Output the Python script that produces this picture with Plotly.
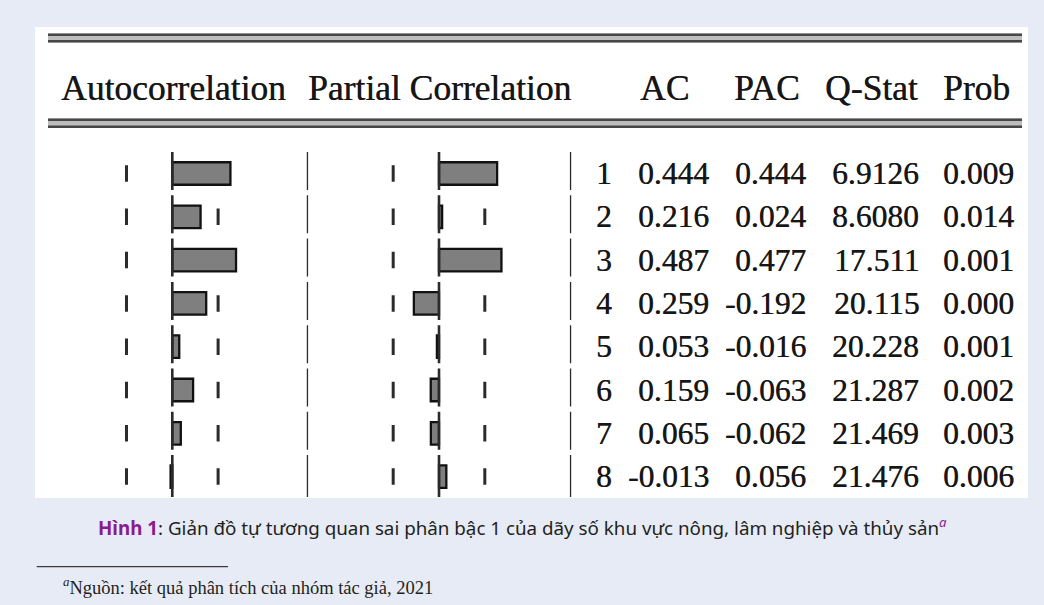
import plotly.graph_objects as go

W, H = 1044, 605

# Correlogram of the first-differenced series
lags = [1, 2, 3, 4, 5, 6, 7, 8]
ac = [0.444, 0.216, 0.487, 0.259, 0.053, 0.159, 0.065, -0.013]
pac = [0.444, 0.024, 0.477, -0.192, -0.016, -0.063, -0.062, 0.056]
q_stat = [6.9126, 8.6080, 17.511, 20.115, 20.228, 21.287, 21.469, 21.476]
prob = [0.009, 0.014, 0.001, 0.000, 0.001, 0.002, 0.003, 0.006]
conf_bound = 0.35
col_headers = ["Autocorrelation", "Partial Correlation", "AC", "PAC", "Q-Stat", "Prob"]

caption = ("<b><span style='color:#8b1c8e'>Hình 1</span></b>: Giản đồ tự tương quan sai phân bậc 1 "
           "của dãy số khu vực nông, lâm nghiệp và thủy sản"
           "<sup><i><span style='color:#8b1c8e'>a</span></i></sup>")
footnote = "<sup><i>a</i></sup>Nguồn: kết quả phân tích của nhóm tác giả, 2021"


def px(x):
    return x / W


def py(y):
    return 1 - y / H


SERIF = "Liberation Serif, Times New Roman, serif"
INK = "#161616"
LINE = "#2b2b2b"
HEAVY = "0.5px 0px 0.4px rgba(20,20,20,0.85)"

fig = go.Figure()

bar_style = dict(orientation="h", width=0.52, yaxis="y",
                 marker=dict(color="#7f7f7f", line=dict(color="#111111", width=2.3)),
                 hoverinfo="skip", showlegend=False)
fig.add_trace(go.Bar(x=ac, y=lags, xaxis="x", **bar_style))
fig.add_trace(go.Bar(x=pac, y=lags, xaxis="x2", **bar_style))

shapes = []
# white panel
shapes.append(dict(type="rect", xref="paper", yref="paper", x0=px(35), x1=px(1028),
                   y0=py(498), y1=py(27), fillcolor="white", line=dict(width=0), layer="below"))

# double rules above and below the header
for top, bot in [(33.5, 42.5), (118.5, 128)]:
    shapes.append(dict(type="rect", xref="paper", yref="paper", x0=px(48), x1=px(1022),
                       y0=py(bot), y1=py(top), fillcolor="#bdbdbd", line=dict(width=0)))
    for yy in (top + 1.3, bot - 1.3):
        shapes.append(dict(type="line", xref="paper", yref="paper", x0=px(48), x1=px(1022),
                           y0=py(yy), y1=py(yy), line=dict(color="#474747", width=2.6)))

# broken vertical rules: zero axes and column separators
for lag in lags:
    y0 = lag - 0.497
    y1 = lag + 0.381 if lag < lags[-1] else lag + 0.47
    for xr, xv in [("x", 0), ("x2", 0), ("x2", -1.01), ("x2", 1.01)]:
        shapes.append(dict(type="line", xref=xr, yref="y", x0=xv, x1=xv, y0=y0, y1=y1,
                           line=dict(color=LINE, width=2.6)))
    # confidence bound ticks (hidden behind long bars)
    for xr in ("x", "x2"):
        for sgn in (-1, 1):
            shapes.append(dict(type="line", xref=xr, yref="y", x0=sgn * conf_bound,
                               x1=sgn * conf_bound, y0=lag - 0.19, y1=lag + 0.19,
                               line=dict(color=LINE, width=3), layer="below"))

# footnote rule
shapes.append(dict(type="line", xref="paper", yref="paper", x0=px(36.7), x1=px(228),
                   y0=py(566.7), y1=py(566.7), line=dict(color="#111111", width=1)))

annotations = []
# header row
hdr_font = dict(family=SERIF, size=35.5, color=INK, shadow=HEAVY)
hdr_centers = [173, 439, 664, 766.5, 871.5, 976]
for txt, xc in zip(col_headers, hdr_centers):
    annotations.append(dict(text=txt, xref="paper", yref="paper", x=px(xc), y=py(88),
                            xanchor="center", yanchor="middle", showarrow=False, font=hdr_font))

# statistics table
num_font = dict(family=SERIF, size=31.5, color=INK, shadow=HEAVY)
columns = [
    (614, [str(v) for v in lags]),
    (711, [f"{v:.3f}" for v in ac]),
    (808, [f"{v:.3f}" for v in pac]),
    (921, [f"{v:#.5g}" for v in q_stat]),
    (1016, [f"{v:.3f}" for v in prob]),
]
for xr, vals in columns:
    for lag, txt in zip(lags, vals):
        annotations.append(dict(text=txt, xref="paper", yref="y", x=px(xr), y=lag,
                                xanchor="right", yanchor="middle", showarrow=False,
                                font=num_font))

annotations.append(dict(text=caption, xref="paper", yref="paper", x=0.5, y=py(527),
                        xanchor="center", yanchor="middle", showarrow=False,
                        font=dict(family="Noto Sans, Open Sans, sans-serif", size=18.8,
                                  color="#231f20")))
annotations.append(dict(text=footnote, xref="paper", yref="paper", x=px(61), y=py(586),
                        xanchor="left", yanchor="middle", showarrow=False,
                        font=dict(family=SERIF, size=18.5, color="#231f20")))

axis_off = dict(visible=False, showgrid=False, zeroline=False, fixedrange=True)
fig.update_layout(
    width=W, height=H,
    margin=dict(l=0, r=0, t=0, b=0),
    paper_bgcolor="#e7ebf6",
    plot_bgcolor="rgba(0,0,0,0)",
    barmode="overlay",
    xaxis=dict(domain=[px(40.1), px(304.5)], range=[-1.01, 1.01], anchor="y", **axis_off),
    xaxis2=dict(domain=[px(306.8), px(571.2)], range=[-1.01, 1.01], anchor="y", **axis_off),
    yaxis=dict(domain=[py(498), py(130)], range=[8.4942, -0.0046], anchor="x", **axis_off),
    shapes=shapes,
    annotations=annotations,
)

fig.write_html("out.html")
